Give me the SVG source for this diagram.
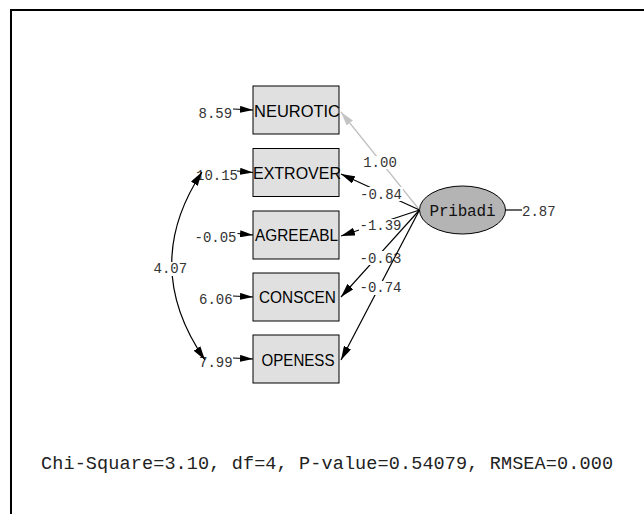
<svg xmlns="http://www.w3.org/2000/svg" width="644" height="514" viewBox="0 0 644 514">
  <style>
    .box { fill: #e0e0e0; stroke: #000; stroke-width: 1; }
    .lat { fill: #b4b4b4; stroke: #000; stroke-width: 1; }
    .name { font-family: "Liberation Sans", Arial, sans-serif; font-size: 17px; fill: #000; text-anchor: middle; }
    .num { font-family: "Liberation Mono", "Courier New", monospace; font-size: 14px; fill: #333; }
    .mid { text-anchor: middle; }
    .edge { fill: none; stroke: #000; stroke-width: 1.2; }
    .edge-gray { fill: none; stroke: #c0c0c0; stroke-width: 1.2; }
    .bg { fill: #fff; }
  </style>
  <defs>
    <marker id="arrow" markerUnits="userSpaceOnUse" viewBox="0 0 14 8" refX="14" refY="4" markerWidth="14" markerHeight="8" orient="auto-start-reverse">
      <path d="M0,0 L14,4 L0,8 z" fill="#000"/>
    </marker>
    <marker id="arrow-gray" markerUnits="userSpaceOnUse" viewBox="0 0 14 8" refX="14" refY="4" markerWidth="14" markerHeight="8" orient="auto">
      <path d="M0,0 L14,4 L0,8 z" fill="#c4c4c4"/>
    </marker>
    <marker id="arrow-small" markerUnits="userSpaceOnUse" viewBox="0 0 13 7" refX="13" refY="3.5" markerWidth="13" markerHeight="7" orient="auto">
      <path d="M0,0 L13,3.5 L0,7 z" fill="#000"/>
    </marker>
  </defs>

  <rect width="644" height="514" fill="#fff"/>
  <!-- frame -->
  <path d="M11,514 V10 H644" fill="none" stroke="#000" stroke-width="2"/>

  <!-- observed indicators -->
  <g id="NEUROTIC">
    <rect class="box" x="253" y="86" width="86" height="48"/>
    <text class="name" x="297" y="116.5" textLength="86" lengthAdjust="spacingAndGlyphs">NEUROTIC</text>
  </g>
  <g id="EXTROVER">
    <rect class="box" x="253" y="148.5" width="86" height="48"/>
    <text class="name" x="297" y="178.5" textLength="88" lengthAdjust="spacingAndGlyphs">EXTROVER</text>
  </g>
  <g id="AGREEABL">
    <rect class="box" x="253" y="211" width="86" height="48"/>
    <text class="name" x="296.5" y="241" textLength="83" lengthAdjust="spacingAndGlyphs">AGREEABL</text>
  </g>
  <g id="CONSCEN">
    <rect class="box" x="253" y="273" width="86" height="48"/>
    <text class="name" x="297.5" y="303" textLength="77" lengthAdjust="spacingAndGlyphs">CONSCEN</text>
  </g>
  <g id="OPENESS">
    <rect class="box" x="253" y="335" width="86" height="48"/>
    <text class="name" x="298" y="365.5" textLength="73" lengthAdjust="spacingAndGlyphs">OPENESS</text>
  </g>

  <!-- latent factor -->
  <g id="Pribadi">
    <ellipse class="lat" cx="462.5" cy="210" rx="43" ry="24"/>
    <text class="num mid" x="462.5" y="216" style="font-size:16px;fill:#111" textLength="66">Pribadi</text>
  </g>

  <!-- error variances -->
  <g id="errors">
    <text class="num" x="198.5" y="117.7">8.59</text>
    <text class="num" x="196" y="180">10.15</text>
    <text class="num" x="194.5" y="241.7">-0.05</text>
    <text class="num" x="199" y="304">6.06</text>
    <text class="num" x="199" y="366.5">7.99</text>
  </g>

  <g id="connectors">
    <!-- error arrows into indicators -->
    <line class="edge" x1="233" y1="109" x2="253" y2="110" marker-end="url(#arrow-small)"/>
    <line class="edge" x1="237" y1="171" x2="253" y2="172.5" marker-end="url(#arrow-small)"/>
    <line class="edge" x1="237.5" y1="233.5" x2="253" y2="235" marker-end="url(#arrow-small)"/>
    <line class="edge" x1="233" y1="296" x2="253" y2="297" marker-end="url(#arrow-small)"/>
    <line class="edge" x1="233" y1="358" x2="253" y2="359" marker-end="url(#arrow-small)"/>

    <!-- error covariance -->
    <path class="edge" d="M202,172 Q140,266 205,360" marker-start="url(#arrow)" marker-end="url(#arrow)"/>
    <rect class="bg" x="153" y="262" width="35" height="14"/>
    <text class="num" x="153.5" y="273.3">4.07</text>

    <!-- loadings -->
    <line class="edge-gray" x1="419.5" y1="210" x2="341" y2="112" marker-end="url(#arrow-gray)"/>
    <rect class="bg" x="362" y="156" width="36" height="13"/>
    <text class="num mid" x="380" y="167">1.00</text>

    <line class="edge" x1="419.5" y1="210" x2="341" y2="174" marker-end="url(#arrow)"/>
    <rect class="bg" x="359" y="187" width="44" height="14"/>
    <text class="num mid" x="381" y="198.5">-0.84</text>

    <line class="edge" x1="419.5" y1="210" x2="341" y2="236" marker-end="url(#arrow)"/>
    <rect class="bg" x="359" y="219" width="43" height="13"/>
    <text class="num mid" x="380.5" y="230">-1.39</text>

    <line class="edge" x1="419.5" y1="210" x2="341" y2="297" marker-end="url(#arrow)"/>
    <rect class="bg" x="359" y="251" width="43" height="14"/>
    <text class="num mid" x="380.5" y="262.7">-0.63</text>

    <line class="edge" x1="419.5" y1="210" x2="341" y2="360" marker-end="url(#arrow)"/>
    <rect class="bg" x="359" y="281" width="43" height="14"/>
    <text class="num mid" x="380.5" y="292.3">-0.74</text>

    <!-- factor variance -->
    <line class="edge" x1="506" y1="210" x2="522" y2="210"/>
    <text class="num" x="522" y="216">2.87</text>
  </g>

  <text x="41" y="469" style="font-family:'Liberation Mono','Courier New',monospace;font-size:18.5px;fill:#222" textLength="572">Chi-Square=3.10, df=4, P-value=0.54079, RMSEA=0.000</text>
</svg>
